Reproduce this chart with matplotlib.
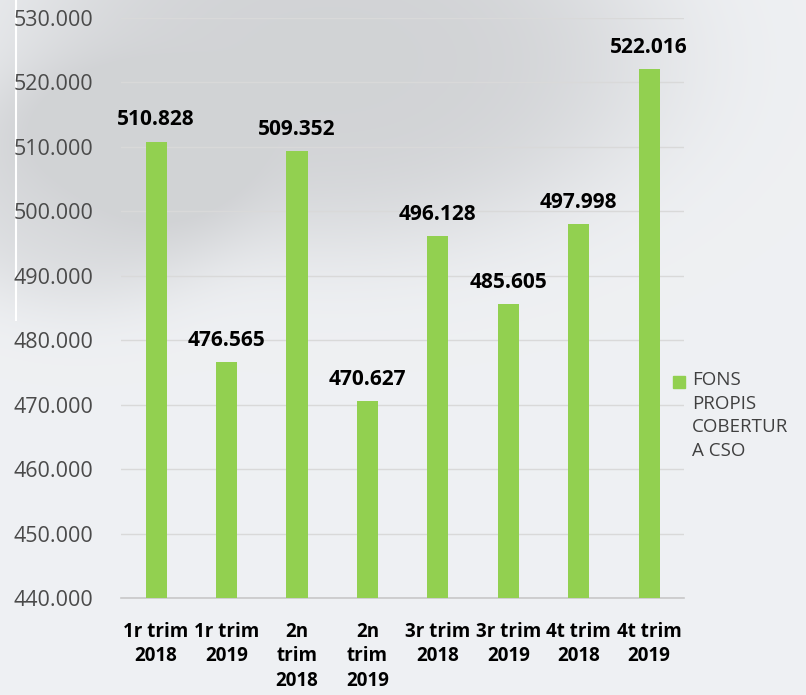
import matplotlib
matplotlib.use('Agg')
import matplotlib.pyplot as plt
from matplotlib.patches import Rectangle
import numpy as np

# dades del grafic
categories = ['1r trim\n2018', '1r trim\n2019', '2n\ntrim\n2018', '2n\ntrim\n2019',
              '3r trim\n2018', '3r trim\n2019', '4t trim\n2018', '4t trim\n2019']
values = [510828, 476565, 509352, 470627, 496128, 485605, 497998, 522016]
series_name = 'FONS\nPROPIS\nCOBERTUR\nA CSO'
y_ticks = [440000, 450000, 460000, 470000, 480000, 490000, 500000, 510000, 520000, 530000]

GREEN = '#92d050'


def fmt(v):
    return '{:,.0f}'.format(v).replace(',', '.')


fig = plt.figure(figsize=(8.06, 6.95), dpi=100)
fig.patch.set_facecolor('#eef0f3')

# fons decoratiu (taca grisa a dalt)
bg = fig.add_axes([0, 0, 1, 1], zorder=-10)
H, W = 695, 806
yy, xx = np.mgrid[0:H, 0:W]
base = np.ones((H, W, 3)) * np.array([0.935, 0.942, 0.953])
shade = np.exp(-(((xx - 330) / 330.0) ** 2 + ((yy - 60) / 190.0) ** 2) ** 2)
shade += 0.7 * np.exp(-(((xx - 80) / 160.0) ** 2 + ((yy - 190) / 120.0) ** 2) ** 2)
shade = np.clip(shade, 0, 1)
img = base * (1 - 0.12 * shade[..., None])
bg.imshow(img, extent=[0, W, H, 0], aspect='auto')
bg.plot([16, 16], [0, 320], color='white', lw=1.5)
bg.set_xlim(0, W)
bg.set_ylim(H, 0)
bg.axis('off')

ax = fig.add_axes([0.150, 0.1396, 0.699, 0.8345])
ax.set_facecolor('none')

x = np.arange(len(values))
ax.bar(x, values, width=0.3, color=GREEN, zorder=3)

ax.set_ylim(440000, 530000)
ax.set_xlim(-0.5, len(values) - 0.5)
ax.set_yticks(y_ticks)
ax.set_yticklabels([fmt(t) for t in y_ticks], fontfamily='Open Sans', fontsize=15.5, color='#4a4a4a')
ax.set_xticks(x)
ax.set_xticklabels(categories, fontfamily='Open Sans', fontweight='bold', fontsize=13.5,
                   color='black', linespacing=1.3)
ax.tick_params(axis='both', length=0)
ax.tick_params(axis='y', pad=20)
ax.tick_params(axis='x', pad=17)

ax.grid(axis='y', color='#d9d9d9', lw=1, zorder=0)
for s in ['top', 'right', 'left']:
    ax.spines[s].set_visible(False)
ax.spines['bottom'].set_color('#c8c8c8')
ax.spines['bottom'].set_linewidth(1.2)

for i, v in enumerate(values):
    ax.annotate(fmt(v), (i, v), xytext=(0, 8), textcoords='offset points',
                ha='center', va='bottom', fontfamily='Open Sans', fontweight='bold',
                fontsize=15, color='black')

# llegenda
fig.patches.append(Rectangle((673 / W, 1 - 388 / H), 12 / W, 12 / H,
                             transform=fig.transFigure, color=GREEN))
fig.text(692 / W, 1 - 371 / H, series_name, fontfamily='Open Sans', fontsize=13.5,
         color='#404040', va='top', ha='left', linespacing=1.4)

fig.savefig('out.png', dpi=100, facecolor=fig.get_facecolor())
